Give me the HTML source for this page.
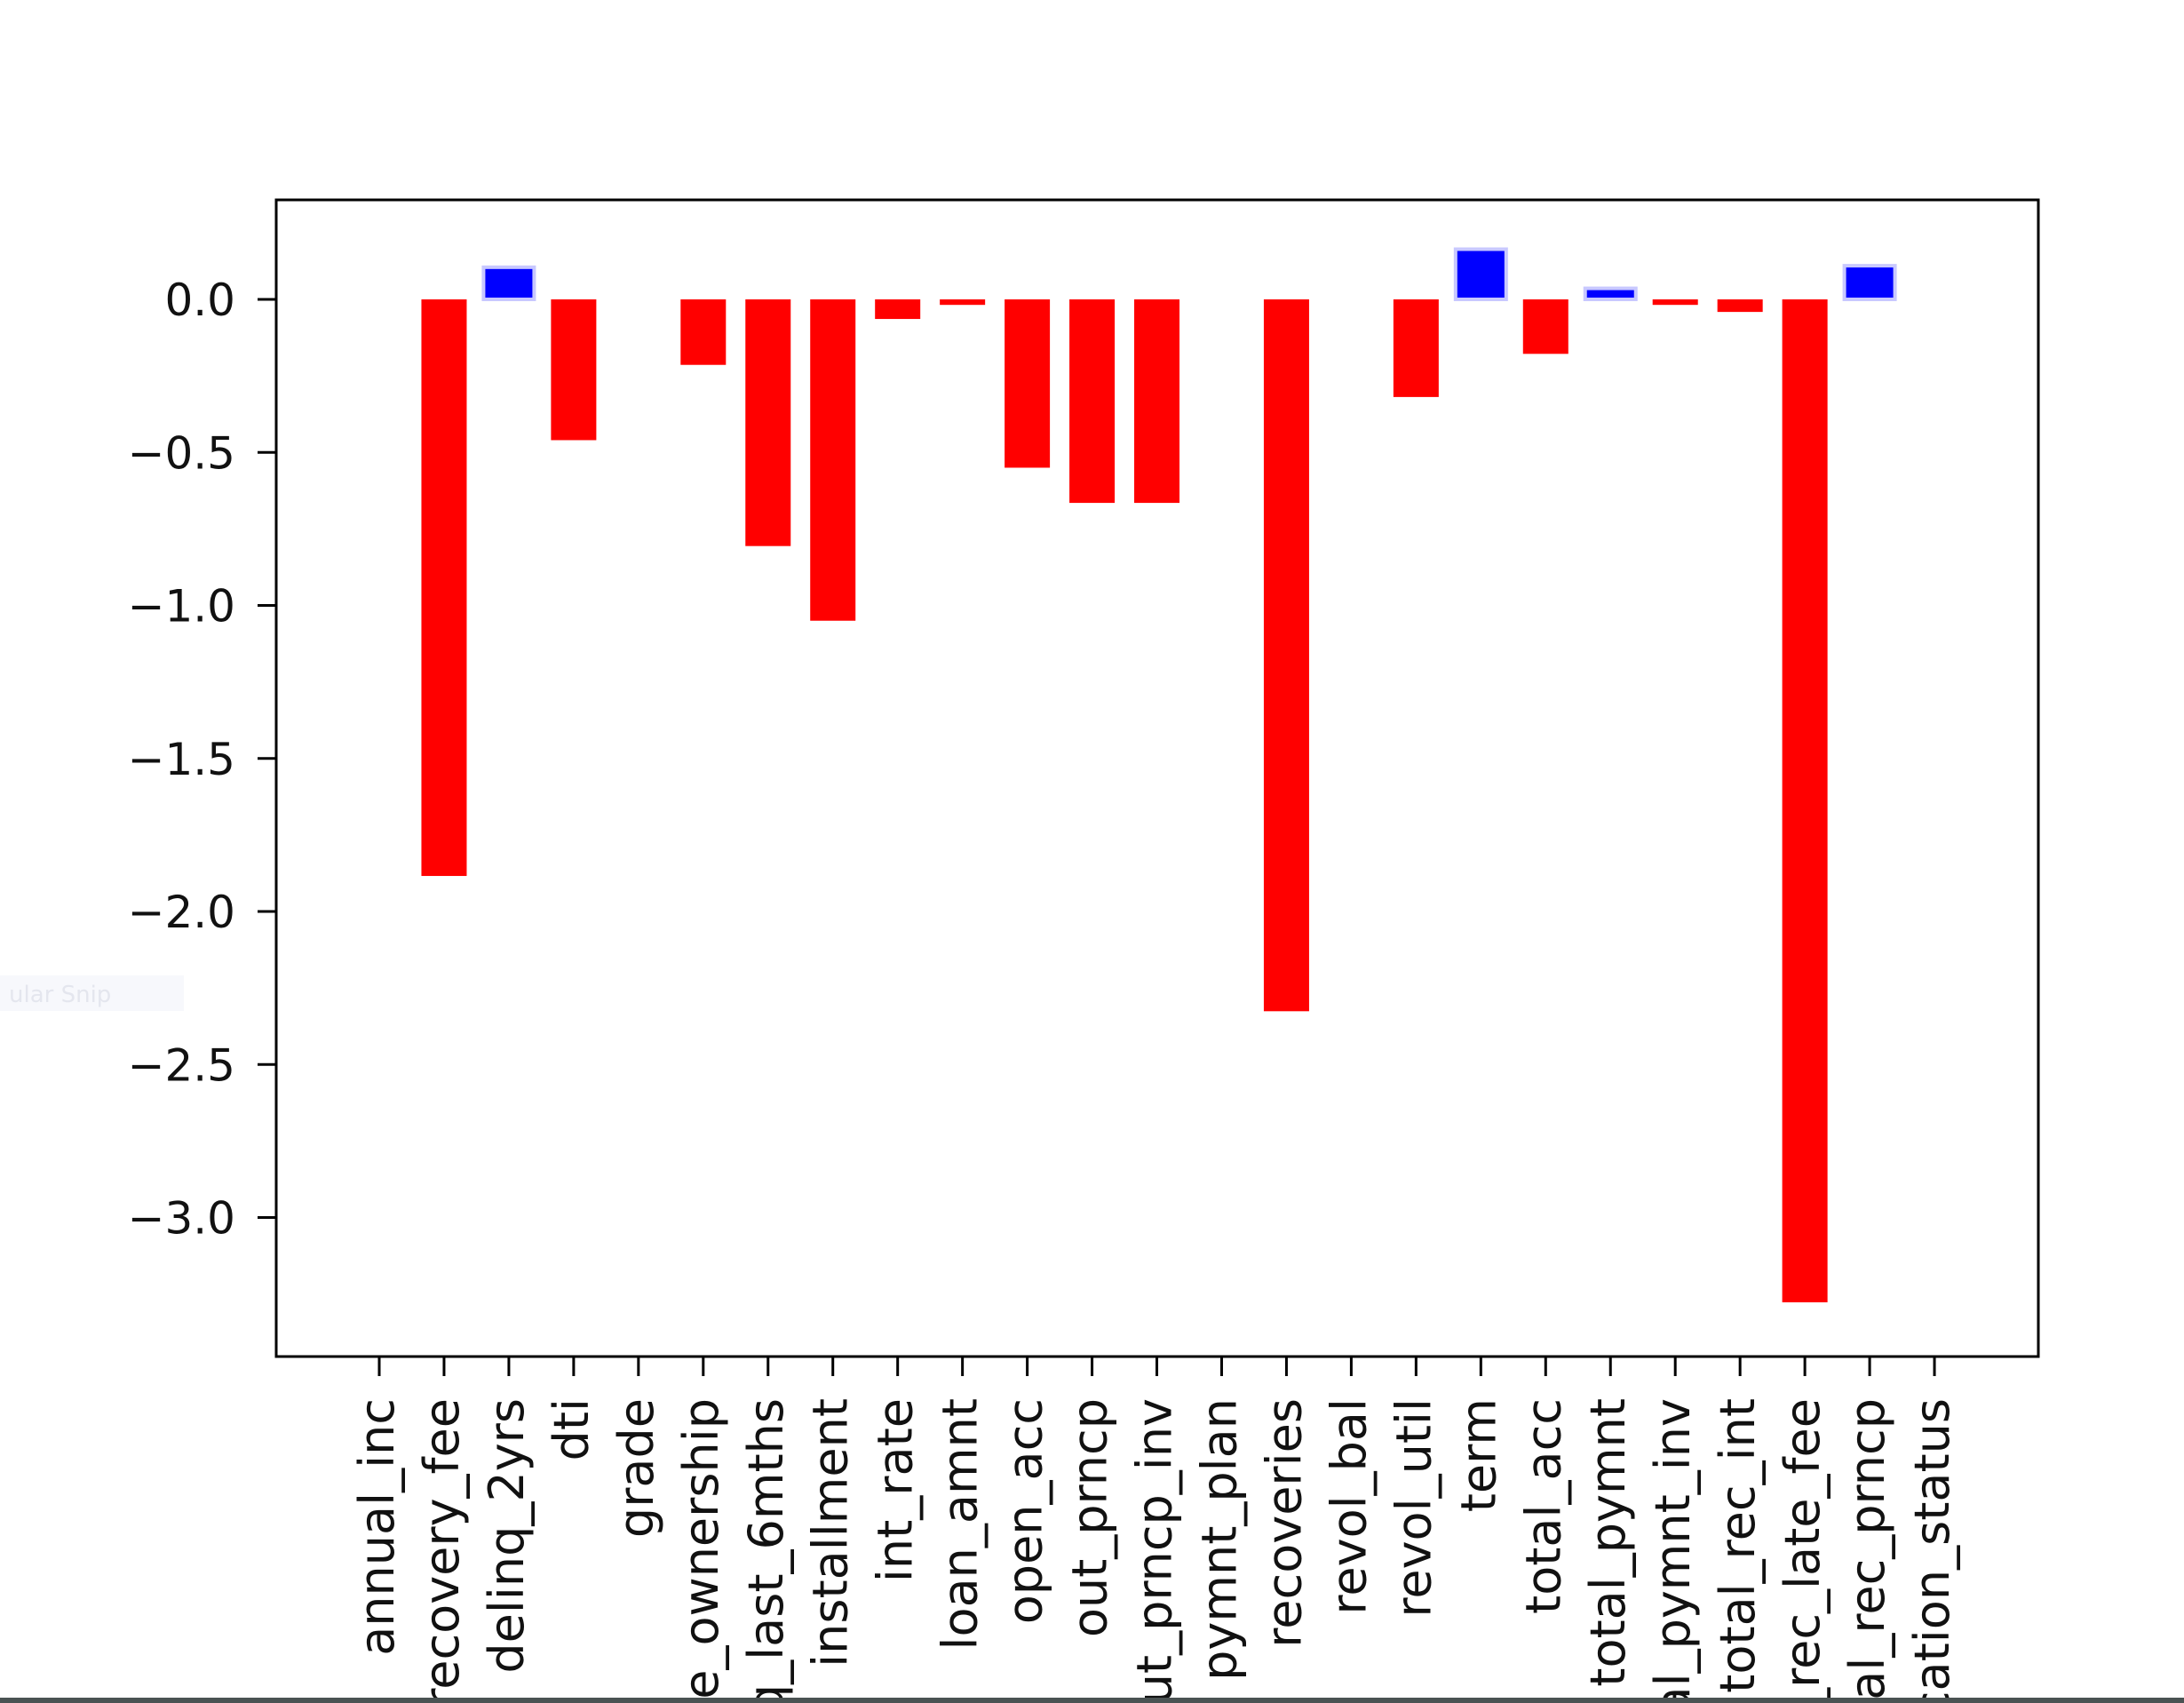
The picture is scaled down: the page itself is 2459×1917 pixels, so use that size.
<!DOCTYPE html>
<html><head><meta charset="utf-8"><style>
html,body{margin:0;padding:0;background:#fff;width:2459px;height:1917px;overflow:hidden;}
svg{display:block;}
text{font-family:"DejaVu Sans","Liberation Sans",sans-serif;fill:#111;}
</style></head><body>
<svg id="chart" width="2459" height="1917" viewBox="0 0 2459 1917" xmlns="http://www.w3.org/2000/svg">
<rect x="0" y="0" width="2459" height="1917" fill="#fff"/>
<rect x="0" y="1098" width="207" height="40" fill="#f7f8fc"/>
<text x="10" y="1128" font-size="26" style="fill:#e4e6ee">ular Snip</text>
<g id="bars"></g>
<g id="yaxis"></g>
<g id="xaxis"></g>
<rect x="311" y="225" width="1984" height="1302" fill="none" stroke="#000" stroke-width="3"/>
<rect x="0" y="1911" width="2459" height="6" fill="#4a5252"/>
</svg>
<script>
const categories = ["annual_inc","collection_recovery_fee","delinq_2yrs","dti","grade","home_ownership","inq_last_6mths","installment","int_rate","loan_amnt","open_acc","out_prncp","out_prncp_inv","pymnt_plan","recoveries","revol_bal","revol_util","term","total_acc","total_pymnt","total_pymnt_inv","total_rec_int","total_rec_late_fee","total_rec_prncp","verification_status"];
const values = [0,-1.884,0.105,-0.46,0,-0.214,-0.806,-1.05,-0.064,-0.018,-0.55,-0.665,-0.665,0,-2.326,0,-0.319,0.164,-0.178,0.036,-0.018,-0.041,-3.277,0.11,0];
const yTicks = [0.0,-0.5,-1.0,-1.5,-2.0,-2.5,-3.0];
const yTickLabels = ["0.0","\u22120.5","\u22121.0","\u22121.5","\u22122.0","\u22122.5","\u22123.0"];

const NS = "http://www.w3.org/2000/svg";
const X0 = 427, STEP = 72.96, Y0 = 337, UNIT = 344.5;
function xScale(i){ return X0 + i*STEP; }
function yScale(v){ return Y0 - v*UNIT; }
function mk(tag, attrs, parent){ const e=document.createElementNS(NS,tag); for(const k in attrs) e.setAttribute(k,attrs[k]); parent.appendChild(e); return e; }

const bars=document.getElementById('bars');
values.forEach((v,i)=>{
  if(v===0) return;
  const pos=v>0;
  const w=pos?57:51, cx=xScale(i);
  const y1=Math.min(yScale(v),yScale(0)), h=Math.abs(yScale(v)-yScale(0));
  const r=mk('rect',{x:cx-w/2,y:y1,width:w,height:h,fill:pos?'#0000ff':'#ff0000'},bars);
  if(pos){ r.setAttribute('stroke','#c8c8ff'); r.setAttribute('stroke-width','4'); }
  
  
});

const ya=document.getElementById('yaxis');
yTicks.forEach((t,i)=>{
  const y=yScale(t);
  const l=mk('line',{x1:290,x2:311,y1:y,y2:y,stroke:'#000','stroke-width':3},ya);
  
  
  const tx=mk('text',{x:265,y:y+18,'font-size':50,'text-anchor':'end'},ya);
  tx.textContent=yTickLabels[i];
  
  
});

const xa=document.getElementById('xaxis');
categories.forEach((c,i)=>{
  const x=xScale(i);
  const l=mk('line',{x1:x,x2:x,y1:1527,y2:1549,stroke:'#000','stroke-width':3},xa);
  
  
  const tx=mk('text',{x:0,y:0,'font-size':54,'text-anchor':'end',transform:'translate('+(x+16)+',1574) rotate(-90)'},xa);
  tx.textContent=c;
  
  
});
</script>
</body></html>
